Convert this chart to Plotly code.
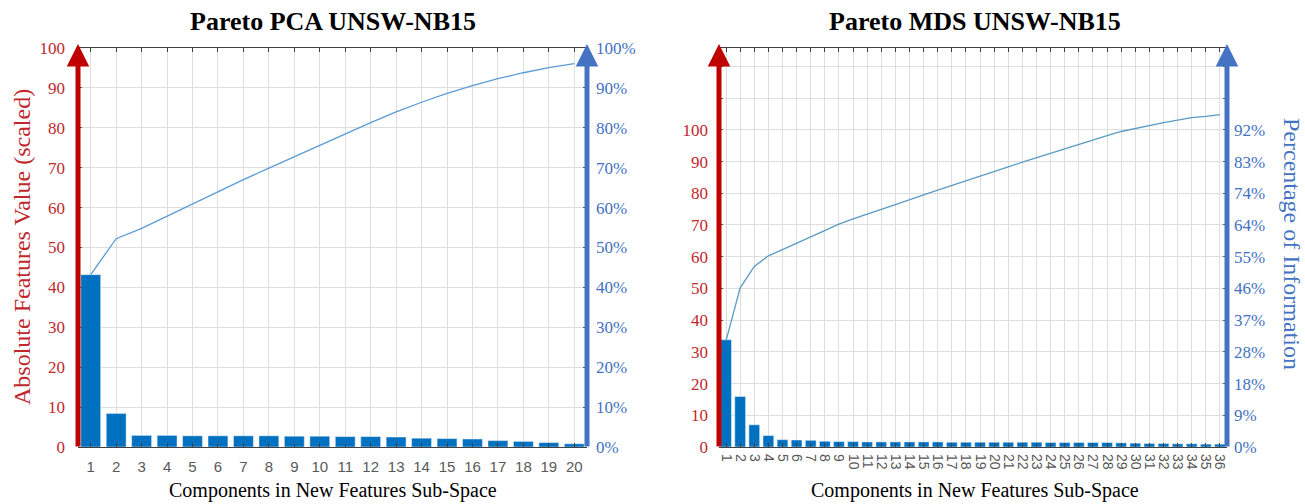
import plotly.graph_objects as go

# ---------------- data ----------------
pca_components = [str(i) for i in range(1, 21)]
pca_values = [43.2, 8.4, 2.9, 2.9, 2.8, 2.8, 2.8, 2.8, 2.7, 2.7,
              2.6, 2.6, 2.5, 2.2, 2.1, 2.0, 1.6, 1.4, 1.1, 0.8]
pca_cum_pct = [43.2, 52.2, 54.8, 57.9, 61.0, 64.0, 67.0, 69.9, 72.8, 75.6,
               78.5, 81.3, 84.0, 86.4, 88.6, 90.6, 92.3, 93.8, 95.1, 96.1]

mds_components = [str(i) for i in range(1, 37)]
mds_values = [33.8, 15.9, 7.0, 3.6, 2.3, 2.2, 2.1, 1.8, 1.7, 1.7,
              1.6, 1.6, 1.6, 1.6, 1.6, 1.6, 1.5, 1.5, 1.5, 1.5,
              1.5, 1.5, 1.5, 1.4, 1.4, 1.4, 1.4, 1.4, 1.3, 1.2,
              1.1, 1.1, 1.0, 1.0, 0.9, 0.9]
mds_cum_pct = [30.9, 46.2, 52.4, 55.5, 57.3, 59.2, 61.1, 63.0, 64.7, 66.2,
               67.7, 69.0, 70.4, 71.9, 73.2, 74.6, 75.9, 77.3, 78.6, 79.9,
               81.3, 82.7, 84.0, 85.4, 86.6, 88.0, 89.2, 90.4, 91.6, 92.5,
               93.5, 94.2, 94.9, 95.6, 96.0, 96.5]

pca_left_ticks = list(range(0, 101, 10))
pca_right_ticks = list(range(0, 101, 10))
mds_left_ticks = list(range(0, 121, 10))
mds_left_labels = [str(v) for v in range(0, 101, 10)] + ["", ""]
mds_right_labels = ["0%", "9%", "18%", "28%", "37%", "46%", "55%",
                    "64%", "74%", "83%", "92%", "", ""]
mds_full_scale = 108.6   # left-axis value that corresponds to 100 %
mds_left_max = 125.8

# ---------------- style ----------------
W, H = 1305, 504
BAR = "#0070C0"
LINE = "#5B9BD5"
RED = "#C00000"
RED_TXT = "#C0282D"
BLUE = "#4472C4"
GRID = "#DEDEDE"
SERIF = "Liberation Serif, Times New Roman, serif"
SANS = "Liberation Sans, Arial, sans-serif"


def px_x(p):
    return p / W


def px_y(p):
    return 1 - p / H


dom_y = [px_y(447), px_y(48)]
dom_x1 = [px_x(78), px_x(587)]
dom_x2 = [px_x(719), px_x(1227)]

pca_x = list(range(1, len(pca_components) + 1))
mds_x = list(range(1, len(mds_components) + 1))

fig = go.Figure()

fig.add_trace(go.Bar(x=pca_x, y=pca_values, marker_color=BAR, width=0.78,
                     xaxis="x", yaxis="y", showlegend=False))
fig.add_trace(go.Scatter(x=pca_x, y=pca_cum_pct, mode="lines",
                         line=dict(color=LINE, width=1.3),
                         xaxis="x", yaxis="y2", showlegend=False))
fig.add_trace(go.Bar(x=mds_x, y=mds_values, marker_color=BAR, width=0.76,
                     xaxis="x2", yaxis="y3", showlegend=False))
fig.add_trace(go.Scatter(x=mds_x, y=mds_cum_pct, mode="lines",
                         line=dict(color="#5A9BC4", width=1.3),
                         xaxis="x2", yaxis="y4", showlegend=False))


def x_axis(domain, anchor, n, labels, angle, size, standoff):
    return dict(domain=domain, anchor=anchor, range=[0.5, n + 0.5],
                automargin=False,
                tickvals=list(range(1, n + 1)), ticktext=labels,
                tickangle=angle, ticklabelstandoff=standoff,
                tickfont=dict(family=SANS, color="#595959", size=size),
                showgrid=True, gridcolor=GRID, gridwidth=1, zeroline=False,
                showline=True, linecolor="#404040", linewidth=1.3,
                mirror="ticks", ticks="inside", ticklen=4, tickcolor="#404040")


def y_left(anchor, rng, vals, labels, standoff):
    return dict(domain=dom_y, anchor=anchor, range=rng, tickvals=vals,
                automargin=False,
                ticktext=labels, ticklabelstandoff=standoff,
                tickfont=dict(family=SERIF, color=RED_TXT, size=17),
                showgrid=True, gridcolor=GRID, gridwidth=1, zeroline=False,
                showline=False, ticks="inside", ticklen=4, tickcolor="#595959")


def y_right(anchor, over, rng, vals, labels, standoff):
    return dict(domain=dom_y, anchor=anchor, overlaying=over, side="right",
                range=rng, tickvals=vals, ticktext=labels,
                automargin=False, ticklabelstandoff=standoff,
                tickfont=dict(family=SERIF, color=BLUE, size=17),
                showgrid=False, zeroline=False, showline=False,
                ticks="inside", ticklen=4, tickcolor="#595959")


mds_right_tickvals = [v * 100 / mds_full_scale for v in mds_left_ticks]

fig.update_layout(
    width=W, height=H,
    margin=dict(l=0, r=0, t=0, b=0),
    paper_bgcolor="white", plot_bgcolor="white",
    xaxis=x_axis(dom_x1, "y", len(pca_x), pca_components, 0, 15, 6),
    yaxis=y_left("x", [0, 100], pca_left_ticks,
                 [str(v) for v in pca_left_ticks], 12),
    yaxis2=y_right("x", "y", [0, 100], pca_right_ticks,
                   ["%d%%" % v for v in pca_right_ticks], 8),
    xaxis2=x_axis(dom_x2, "y3", len(mds_x), mds_components, 90, 14, 3),
    yaxis3=y_left("x2", [0, mds_left_max], mds_left_ticks, mds_left_labels, 10),
    yaxis4=y_right("x2", "y3", [0, mds_left_max * 100 / mds_full_scale],
                   mds_right_tickvals, mds_right_labels, 6),
)

annotations = []

# chart titles
for cx, title in [(333, "Pareto PCA UNSW-NB15"), (975, "Pareto MDS UNSW-NB15")]:
    annotations.append(dict(x=px_x(cx), y=px_y(22), xref="paper", yref="paper",
                            text="<b>%s</b>" % title, showarrow=False,
                            xanchor="center", yanchor="middle",
                            font=dict(family=SERIF, size=26, color="black")))

# x-axis titles
for cx in (333, 975):
    annotations.append(dict(x=px_x(cx), y=0, xref="paper", yref="paper",
                            text="Components in New Features Sub-Space",
                            showarrow=False, xanchor="center", yanchor="bottom",
                            font=dict(family=SERIF, size=20, color="black")))

# y-axis titles
annotations.append(dict(x=px_x(22), y=px_y(247), xref="paper", yref="paper",
                        text="Absolute Features Value (scaled)", textangle=-90,
                        showarrow=False, xanchor="center", yanchor="middle",
                        font=dict(family=SERIF, size=24, color=RED_TXT)))
annotations.append(dict(x=px_x(1292), y=px_y(244), xref="paper", yref="paper",
                        text="Percentage of Information", textangle=90,
                        showarrow=False, xanchor="center", yanchor="middle",
                        font=dict(family=SERIF, size=24, color=BLUE)))

# axis arrows
for xr, yr, side, col in [("x", "y", 0, RED), ("x", "y", 1, BLUE),
                          ("x2", "y3", 0, RED), ("x2", "y3", 1, BLUE)]:
    annotations.append(dict(x=side, y=1.01, xref=xr + " domain", yref=yr + " domain",
                            ax=0, ay=404, axref="pixel", ayref="pixel",
                            text="", showarrow=True, arrowhead=2, arrowsize=0.9,
                            arrowwidth=5, arrowcolor=col))

fig.update_layout(annotations=annotations)

fig.write_html("out.html")
